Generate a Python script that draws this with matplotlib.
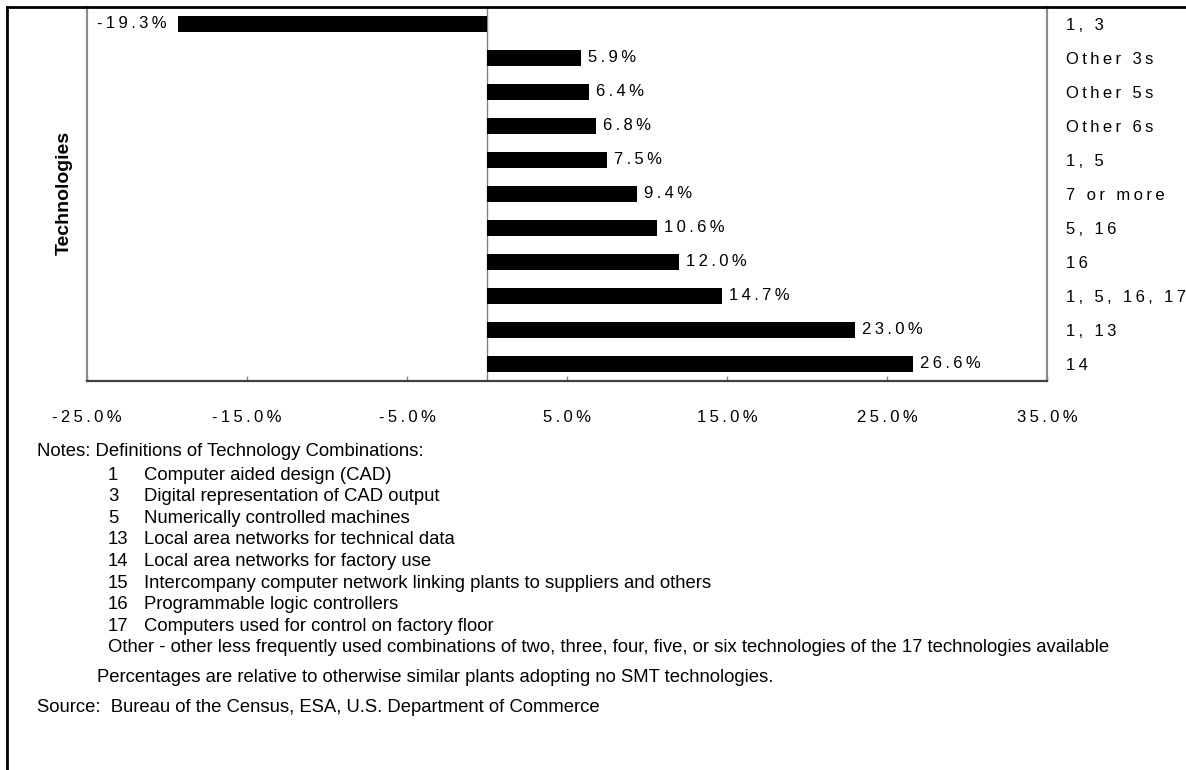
import matplotlib.pyplot as plt
from matplotlib.lines import Line2D

plt.rcParams['font.family'] = ['Liberation Sans', 'DejaVu Sans']

# --- data ---
combos = ["1, 3", "Other 3s", "Other 5s", "Other 6s", "1, 5", "7 or more",
          "5, 16", "16", "1, 5, 16, 17", "1, 13", "14"]
effects = [-19.3, 5.9, 6.4, 6.8, 7.5, 9.4, 10.6, 12.0, 14.7, 23.0, 26.6]
x_ticks = [-25, -15, -5, 5, 15, 25, 35]

tech_codes = ["1", "3", "5", "13", "14", "15", "16", "17"]
tech_names = [
    "Computer aided design (CAD)",
    "Digital representation of CAD output",
    "Numerically controlled machines",
    "Local area networks for technical data",
    "Local area networks for factory use",
    "Intercompany computer network linking plants to suppliers and others",
    "Programmable logic controllers",
    "Computers used for control on factory floor",
]
notes_title = "Notes: Definitions of Technology Combinations:"
other_note = ("Other - other less frequently used combinations of two, three, four, "
              "five, or six technologies of the 17 technologies available")
pct_note = "Percentages are relative to otherwise similar plants adopting no SMT technologies."
source_note = "Source:  Bureau of the Census, ESA, U.S. Department of Commerce"

W, H = 1186, 770
LABEL_FS = 12


def spaced(s):
    # the original chart uses wide letter spacing for its axis texts
    return "\u2009".join(s)


def fx(px):
    return px / W


def fy(py):
    return 1 - py / H


fig = plt.figure(figsize=(W / 100, H / 100), dpi=100)
ax = fig.add_axes([fx(87), fy(381), fx(1047) - fx(87), fy(7) - fy(381)])

n = len(combos)
ax.barh(range(n), effects, height=0.47, color='black')
ax.axvline(0, color='#808080', lw=1, zorder=0)

ax.set_xlim(-25, 35)
ax.set_ylim(n - 0.5, -0.5)
ax.set_xticks(x_ticks, [spaced(f"{t:.1f}%") for t in x_ticks])
ax.yaxis.tick_right()
ax.set_yticks(range(n), [spaced(c) for c in combos])
ax.tick_params(axis='y', length=0, pad=14, labelsize=LABEL_FS)
ax.tick_params(axis='x', direction='in', length=3.6, width=1, color='#808080',
               pad=21, labelsize=LABEL_FS)

ax.spines['top'].set_visible(False)
ax.spines['left'].set_color('#8a8a8a')
ax.spines['right'].set_color('#8a8a8a')
ax.spines['bottom'].set_color('#404040')
for s in ['left', 'right', 'bottom']:
    ax.spines[s].set_linewidth(1.6)

for i, v in enumerate(effects):
    if v >= 0:
        ax.annotate(spaced(f"{v:.1f}%"), (v, i), xytext=(5, 0), textcoords='offset points',
                    ha='left', va='center', fontsize=LABEL_FS)
    else:
        ax.annotate(spaced(f"{v:.1f}%"), (v, i), xytext=(-8, 0), textcoords='offset points',
                    ha='right', va='center', fontsize=LABEL_FS)

fig.text(fx(64), fy(193), "Technologies", rotation=90, ha='center', va='center',
         fontsize=14, fontweight='bold')

# notes block
note_fs = 13.3
fig.text(fx(37), fy(452), notes_title, ha='left', va='center', fontsize=note_fs)
for i, (code, name) in enumerate(zip(tech_codes, tech_names)):
    yy = 475 + i * 21.6
    fig.text(fx(108), fy(yy), code, ha='left', va='center', fontsize=note_fs)
    fig.text(fx(144), fy(yy), name, ha='left', va='center', fontsize=note_fs)
fig.text(fx(108), fy(648), other_note, ha='left', va='center', fontsize=note_fs)
fig.text(fx(97), fy(678), pct_note, ha='left', va='center', fontsize=note_fs)
fig.text(fx(37), fy(708), source_note, ha='left', va='center', fontsize=note_fs)

# outer frame (top and left edges are visible in the original)
fig.add_artist(Line2D([fx(7), 1], [fy(7), fy(7)], color='black', lw=2))
fig.add_artist(Line2D([fx(7), fx(7)], [0, fy(7)], color='black', lw=2))

fig.savefig('out.png', dpi=100)
